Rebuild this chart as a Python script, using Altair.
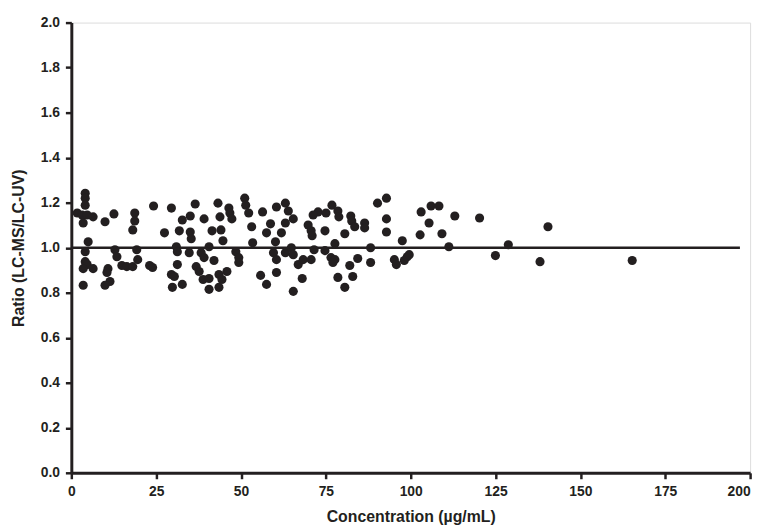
import altair as alt
import pandas as pd

conc = [
    4.09, 4.09, 4.09, 1.75, 3.21, 4.67, 6.42, 3.50, 9.93, 12.55, 18.69, 18.69, 18.10,
    4.96, 4.09, 4.09, 4.67, 3.50, 6.42, 3.50, 10.80, 10.51, 11.39, 9.93, 12.85, 13.43,
    14.89, 16.35, 18.10, 19.27, 19.56,
    24.23, 29.49, 36.50, 43.21, 32.70, 35.04, 39.12, 43.80, 27.45, 31.82, 35.04, 35.33,
    41.46, 44.09, 44.67, 30.95, 31.24, 34.74, 38.25, 40.58, 39.12, 42.04, 23.07, 23.94,
    31.24, 36.79, 37.66, 29.49, 30.36, 38.83, 40.58, 43.50, 32.70, 29.78, 40.58, 43.50, 44.38,
    51.09, 51.39, 52.26, 46.42, 46.72, 47.30, 56.35, 60.44, 63.07, 63.94, 65.40, 63.07,
    58.69, 53.14, 57.52, 61.90, 53.43, 60.15, 48.47, 49.34, 49.34, 59.56, 60.44, 63.07,
    64.82, 65.40, 66.86, 68.32, 45.84, 55.77, 60.44, 57.52, 65.40, 68.03,
    76.79, 72.70, 75.04, 71.24, 78.54, 78.83, 82.34, 82.63, 86.42, 86.42, 90.22, 69.78,
    70.66, 70.95, 74.74, 80.58, 83.50, 77.66, 71.53, 74.74, 88.18, 70.66, 76.50, 77.66,
    77.08, 84.38, 88.18, 82.04, 78.54, 82.92, 80.58,
    92.85, 92.85, 92.85, 97.52, 95.18, 95.77, 98.10, 98.98, 99.56, 103.07, 105.99, 108.32,
    105.40, 102.77, 109.20, 112.99, 111.24, 120.29, 124.96, 128.76, 140.44, 138.10, 165.26,
]
ratio = [
    1.242, 1.220, 1.189, 1.154, 1.145, 1.145, 1.137, 1.110, 1.115, 1.150, 1.154, 1.119, 1.079,
    1.026, 0.982, 0.938, 0.925, 0.907, 0.907, 0.833, 0.907, 0.890, 0.850, 0.833, 0.991, 0.960,
    0.921, 0.916, 0.916, 0.991, 0.947,
    1.185, 1.176, 1.194, 1.198, 1.123, 1.141, 1.128, 1.137, 1.066, 1.075, 1.070, 1.040,
    1.075, 1.079, 1.031, 1.004, 0.982, 0.978, 0.978, 1.004, 0.956, 0.943, 0.921, 0.912,
    0.925, 0.916, 0.894, 0.881, 0.872, 0.859, 0.863, 0.881, 0.837, 0.824, 0.815, 0.824, 0.859,
    1.220, 1.189, 1.154, 1.176, 1.154, 1.128, 1.159, 1.181, 1.198, 1.163, 1.128, 1.110,
    1.106, 1.093, 1.066, 1.066, 1.022, 1.026, 0.982, 0.956, 0.934, 0.978, 0.947, 0.978,
    1.000, 0.969, 0.925, 0.947, 0.894, 0.877, 0.890, 0.837, 0.806, 0.863,
    1.189, 1.159, 1.154, 1.145, 1.163, 1.137, 1.141, 1.119, 1.110, 1.088, 1.198, 1.101,
    1.075, 1.053, 1.075, 1.062, 1.093, 1.018, 0.991, 0.987, 1.000, 0.947, 0.956, 0.947,
    0.934, 0.952, 0.934, 0.921, 0.868, 0.872, 0.824,
    1.220, 1.128, 1.070, 1.031, 0.947, 0.925, 0.943, 0.960, 0.969, 1.159, 1.185, 1.185,
    1.110, 1.057, 1.062, 1.141, 1.004, 1.132, 0.965, 1.013, 1.093, 0.938, 0.943,
]

ref_line = {"x": [0], "x2": [197], "y": [1.0]}

x_ticks = [0, 25, 50, 75, 100, 125, 150, 175, 200]
y_ticks = [0.0, 0.2, 0.4, 0.6, 0.8, 1.0, 1.2, 1.4, 1.6, 1.8, 2.0]

df = pd.DataFrame({"conc": conc, "ratio": ratio})
line_df = pd.DataFrame(ref_line)

FONT = "Liberation Sans"
INK = "#231f20"

xscale = alt.Scale(domain=[0, 200], nice=False, zero=False)
yscale = alt.Scale(domain=[0, 2.0], nice=False)

common = dict(
    grid=False, domainColor=INK, domainWidth=3, tickColor=INK, tickWidth=2.5,
    tickSize=6, labelFont=FONT, labelFontSize=14, labelFontWeight="bold",
    labelColor=INK, titleFont=FONT, titleFontSize=16, titleFontWeight="bold",
    titleColor=INK, labelFlush=False,
)

x_axis = alt.Axis(
    title="Concentration (µg/mL)", values=x_ticks, format="d",
    labelPadding=6, titlePadding=10,
    labelAlign={"condition": {"test": "datum.value >= 200", "value": "right"}, "value": "center"},
    **common,
)
y_axis = alt.Axis(
    title="Ratio (LC-MS/LC-UV)", values=y_ticks, format=".1f",
    labelPadding=6, titlePadding=14, **common,
)

points = alt.Chart(df).mark_circle(size=85, opacity=1, color=INK).encode(
    x=alt.X("conc:Q", scale=xscale, axis=x_axis),
    y=alt.Y("ratio:Q", scale=yscale, axis=y_axis),
)

rule = alt.Chart(line_df).mark_rule(color=INK, strokeWidth=2.5).encode(
    x=alt.X("x:Q", scale=xscale),
    x2="x2:Q",
    y=alt.Y("y:Q", scale=yscale),
)

chart = (
    alt.layer(rule, points)
    .properties(
        width=686, height=455,
        autosize=alt.AutoSizeParams(type="none"),
        padding={"left": 64, "top": 12, "right": 10, "bottom": 50},
    )
    .configure_view(stroke=None)
    .configure(background="white")
)

chart.save("out.html", embed_options={"renderer": "svg", "actions": False})
